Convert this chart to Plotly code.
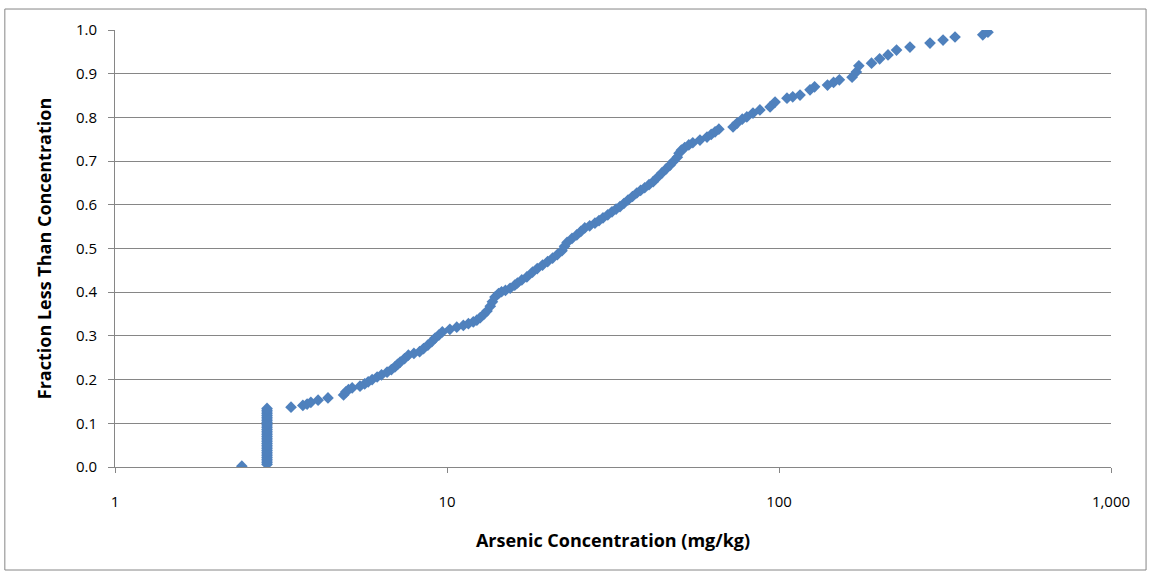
import plotly.graph_objects as go

# Arsenic concentration (mg/kg)
conc = [
    2.41,
    2.87, 2.87, 2.87, 2.87, 2.87, 2.87, 2.87, 2.87, 2.87, 2.87, 2.87,
    2.87, 2.87, 2.87, 2.87, 2.87, 2.87, 2.87, 2.87, 2.87, 2.87, 2.87,
    2.87, 2.87, 2.87, 2.87, 2.87, 2.87, 2.87, 2.87, 2.87, 2.87, 2.87,
    3.39, 3.68, 3.79, 3.89, 4.09, 4.38, 4.88, 4.96, 5.05, 5.18, 5.47,
    5.65, 5.79, 5.95, 6.16, 6.35, 6.60, 6.80, 6.97, 7.10, 7.23, 7.45,
    7.65, 7.95, 8.27, 8.50, 8.76, 9.00, 9.21, 9.45, 9.68, 10.2, 10.7,
    11.2, 11.6, 12.0, 12.3, 12.6, 12.9, 13.2, 13.5, 13.7, 13.95, 14.3,
    14.6, 15.0, 15.5, 16.0, 16.3, 16.8, 17.4, 18.1, 18.7, 19.4, 20.1,
    20.8, 21.5, 22.2, 22.6, 23.0, 23.8, 24.6, 25.3, 26.0, 26.9, 27.9,
    28.7, 29.5, 30.5, 31.4, 32.3, 33.2, 34.1, 35.1, 36.2, 37.3, 38.3,
    39.4, 40.6, 41.8, 43.1, 44.4, 45.7, 47.0, 48.2, 49.4, 50.0, 50.8,
    52.0, 53.5, 55.0, 57.8, 60.7, 62.5, 64.2, 65.9, 72.7, 74.8, 77.5,
    80.0, 83.5, 87.6, 94.0, 97.3, 105.7, 110.0, 115.7, 124.0, 128.0, 140.0,
    146.0, 152.0, 166.0, 171.0, 174.0, 190.0, 201.0, 213.0, 226.0, 248.0, 285.0,
    312.0, 339.0, 411.0, 426.0,
]

# Fraction less than concentration
fraction = [
    0.002,
    0.006, 0.010, 0.014, 0.018, 0.022, 0.026, 0.030, 0.034, 0.038, 0.042, 0.046,
    0.050, 0.054, 0.058, 0.062, 0.066, 0.070, 0.074, 0.078, 0.082, 0.086, 0.090,
    0.094, 0.098, 0.102, 0.106, 0.110, 0.114, 0.118, 0.122, 0.126, 0.130, 0.134,
    0.137, 0.141, 0.144, 0.148, 0.153, 0.158, 0.165, 0.172, 0.177, 0.181, 0.185,
    0.190, 0.195, 0.200, 0.206, 0.211, 0.217, 0.223, 0.229, 0.235, 0.240, 0.248,
    0.256, 0.260, 0.264, 0.271, 0.279, 0.287, 0.295, 0.302, 0.309, 0.315, 0.320,
    0.324, 0.328, 0.332, 0.336, 0.342, 0.349, 0.357, 0.368, 0.378, 0.389, 0.397,
    0.401, 0.404, 0.409, 0.416, 0.421, 0.428, 0.435, 0.446, 0.454, 0.462, 0.470,
    0.478, 0.486, 0.495, 0.505, 0.514, 0.523, 0.531, 0.539, 0.547, 0.552, 0.558,
    0.564, 0.570, 0.577, 0.584, 0.590, 0.596, 0.603, 0.611, 0.619, 0.627, 0.633,
    0.639, 0.646, 0.653, 0.663, 0.673, 0.682, 0.691, 0.700, 0.709, 0.718, 0.725,
    0.731, 0.737, 0.742, 0.748, 0.755, 0.761, 0.767, 0.773, 0.778, 0.787, 0.796,
    0.801, 0.810, 0.817, 0.824, 0.835, 0.844, 0.847, 0.851, 0.863, 0.870, 0.874,
    0.880, 0.886, 0.892, 0.904, 0.918, 0.924, 0.934, 0.943, 0.954, 0.961, 0.970,
    0.977, 0.984, 0.989, 0.995,
]

x_tick_vals = [1, 10, 100, 1000]
x_tick_text = ["1", "10", "100", "1,000"]
y_tick_vals = [0.0, 0.1, 0.2, 0.3, 0.4, 0.5, 0.6, 0.7, 0.8, 0.9, 1.0]
y_tick_text = ["0.0", "0.1", "0.2", "0.3", "0.4", "0.5", "0.6", "0.7", "0.8", "0.9", "1.0"]

BLUE = "#4F81BD"
GRAY = "#868686"
FONT = "Open Sans"

fig = go.Figure()
fig.add_trace(go.Scatter(
    x=conc, y=fraction, mode="markers",
    marker=dict(symbol="diamond", size=9, color=BLUE, line=dict(width=0)),
    showlegend=False, hoverinfo="x+y",
))

fig.update_layout(
    width=1151, height=574,
    margin=dict(l=115, r=40, t=30, b=107, autoexpand=False),
    paper_bgcolor="white", plot_bgcolor="white",
    font=dict(family=FONT, size=15, color="#000000"),
    xaxis=dict(
        type="log", range=[0, 3],
        tickvals=x_tick_vals, ticktext=x_tick_text,
        showgrid=False, zeroline=False,
        showline=True, linecolor=GRAY, linewidth=1,
        ticks="outside", ticklen=5, tickcolor=GRAY, tickwidth=1,
        ticklabelstandoff=16,
        tickfont=dict(family=FONT, size=15),
        title=dict(text="<b>Arsenic Concentration (mg/kg)</b>", standoff=24,
                   font=dict(family=FONT, size=18)),
        automargin=False,
    ),
    yaxis=dict(
        range=[0, 1],
        tickvals=y_tick_vals, ticktext=y_tick_text,
        showgrid=True, gridcolor=GRAY, gridwidth=1,
        zeroline=False,
        showline=True, linecolor=GRAY, linewidth=1,
        ticks="outside", ticklen=6, tickcolor=GRAY, tickwidth=1,
        ticklabelstandoff=8,
        tickfont=dict(family=FONT, size=15),
        title=dict(text="<b>Fraction Less Than Concentration</b>", standoff=19,
                   font=dict(family=FONT, size=18)),
        automargin=False,
    ),
    shapes=[dict(
        type="rect", xref="paper", yref="paper",
        x0=-0.1106, x1=1.0352, y0=-0.2357, y1=1.048,
        line=dict(color=GRAY, width=1), fillcolor="rgba(0,0,0,0)", layer="below",
    )],
)

fig.write_html("out.html")
